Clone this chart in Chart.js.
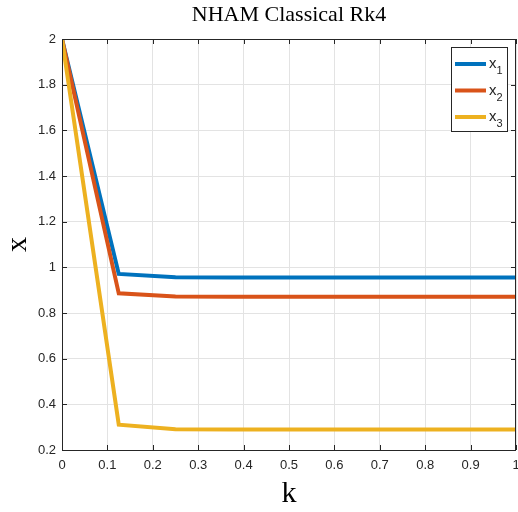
<!DOCTYPE html>
<html>
<head>
<meta charset="utf-8">
<script src="https://cdn.jsdelivr.net/npm/chart.js@4/dist/chart.umd.min.js"></script>
<style>
  html, body { margin: 0; padding: 0; background: #fff; }
  #wrap { width: 518px; height: 512px; }
</style>
</head>
<body>
<div id="wrap"><canvas id="c" width="518" height="512"></canvas></div>
<script>
// step values k and the three solution components
const kValues = [0, 0.125, 0.25, 0.375, 0.5, 0.625, 0.75, 0.875, 1];
const x1 = [2, 0.971, 0.957, 0.956, 0.956, 0.956, 0.956, 0.956, 0.956];
const x2 = [2, 0.886, 0.872, 0.871, 0.871, 0.871, 0.871, 0.871, 0.871];
const x3 = [2, 0.311, 0.291, 0.290, 0.290, 0.290, 0.290, 0.290, 0.290];

const seriesNames = ['x1', 'x2', 'x3'];
const xTickLabels = ['0', '0.1', '0.2', '0.3', '0.4', '0.5', '0.6', '0.7', '0.8', '0.9', '1'];
const yTickLabels = ['0.2', '0.4', '0.6', '0.8', '1', '1.2', '1.4', '1.6', '1.8', '2'];

const colors = ['#0072BD', '#D95319', '#EDB120'];
const axisColor = '#262626';
const gridColor = '#e3e3e3';

const toPoints = ys => ys.map((y, i) => ({ x: kValues[i], y }));

// frame + inward ticks + legend, MATLAB style
const matlabBox = {
  id: 'matlabBox',
  afterDatasetsDraw(chart) {
    const { ctx, chartArea: a, scales } = chart;
    ctx.save();
    ctx.strokeStyle = axisColor;
    ctx.lineWidth = 1;
    ctx.strokeRect(Math.round(a.left) + 0.5, Math.round(a.top) + 0.5,
      Math.round(a.right - a.left) - 1, Math.round(a.bottom - a.top));
    const len = 5;
    ctx.beginPath();
    scales.x.ticks.forEach(t => {
      const px = Math.round(scales.x.getPixelForValue(t.value)) + 0.5;
      ctx.moveTo(px, a.bottom); ctx.lineTo(px, a.bottom - len);
      ctx.moveTo(px, a.top); ctx.lineTo(px, a.top + len);
    });
    scales.y.ticks.forEach(t => {
      const py = Math.round(scales.y.getPixelForValue(t.value)) + 0.5;
      ctx.moveTo(a.left, py); ctx.lineTo(a.left + len, py);
      ctx.moveTo(a.right, py); ctx.lineTo(a.right - len, py);
    });
    ctx.stroke();

    // legend
    const bx = 451.5, by = 47.5, bw = 56, bh = 84;
    ctx.fillStyle = '#fff';
    ctx.fillRect(bx, by, bw, bh);
    ctx.strokeRect(bx, by, bw, bh);
    chart.data.datasets.forEach((ds, i) => {
      const y = 64 + i * 26.5;
      ctx.strokeStyle = ds.borderColor;
      ctx.lineWidth = 4;
      ctx.beginPath();
      ctx.moveTo(455, y); ctx.lineTo(486, y);
      ctx.stroke();
      ctx.fillStyle = axisColor;
      ctx.textBaseline = 'alphabetic';
      ctx.textAlign = 'left';
      ctx.font = '15px "Liberation Sans", Arial, sans-serif';
      ctx.fillText('x', 489, y + 4);
      ctx.font = '11px "Liberation Sans", Arial, sans-serif';
      ctx.fillText(seriesNames[i].slice(1), 496.5, y + 10);
    });
    ctx.restore();
  }
};

new Chart(document.getElementById('c'), {
  type: 'line',
  data: {
    datasets: [x1, x2, x3].map((ys, i) => ({
      label: seriesNames[i],
      data: toPoints(ys),
      borderColor: colors[i],
      backgroundColor: colors[i],
      borderWidth: 4,
      pointRadius: 0,
      tension: 0,
      order: 2 - i
    }))
  },
  options: {
    responsive: false,
    animation: false,
    layout: { padding: { right: 2 } },
    plugins: {
      legend: { display: false },
      tooltip: { enabled: false },
      title: {
        display: true,
        fullSize: false,
        text: 'NHAM Classical Rk4',
        color: '#000',
        font: { family: '"Liberation Serif", "DejaVu Serif", serif', size: 22, weight: 'normal' },
        padding: { top: 2, bottom: 10.6 }
      }
    },
    scales: {
      x: {
        type: 'linear',
        min: 0, max: 1,
        afterFit: s => { s.height = 62; s.paddingRight = 0; s.paddingLeft = 0; },
        ticks: {
          stepSize: 0.1,
          color: axisColor,
          padding: 8,
          maxRotation: 0,
          font: { family: '"Liberation Sans", Arial, sans-serif', size: 13 },
          callback: (v, i) => xTickLabels[i]
        },
        grid: { color: gridColor, drawTicks: false },
        border: { display: false },
        title: {
          display: true,
          text: 'k',
          color: '#000',
          font: { family: '"Liberation Serif", "DejaVu Serif", serif', size: 30 },
          padding: 0
        }
      },
      y: {
        min: 0.2, max: 2,
        afterFit: s => { s.width = 62; s.paddingTop = 0; s.paddingBottom = 0; },
        ticks: {
          stepSize: 0.2,
          color: axisColor,
          padding: 6,
          font: { family: '"Liberation Sans", Arial, sans-serif', size: 13 },
          callback: (v, i) => yTickLabels[i]
        },
        grid: { color: gridColor, drawTicks: false },
        border: { display: false },
        title: {
          display: true,
          text: 'x',
          color: '#000',
          font: { family: '"Liberation Serif", "DejaVu Serif", serif', size: 30 },
          padding: 0
        }
      }
    }
  },
  plugins: [matlabBox]
});
</script>
</body>
</html>
